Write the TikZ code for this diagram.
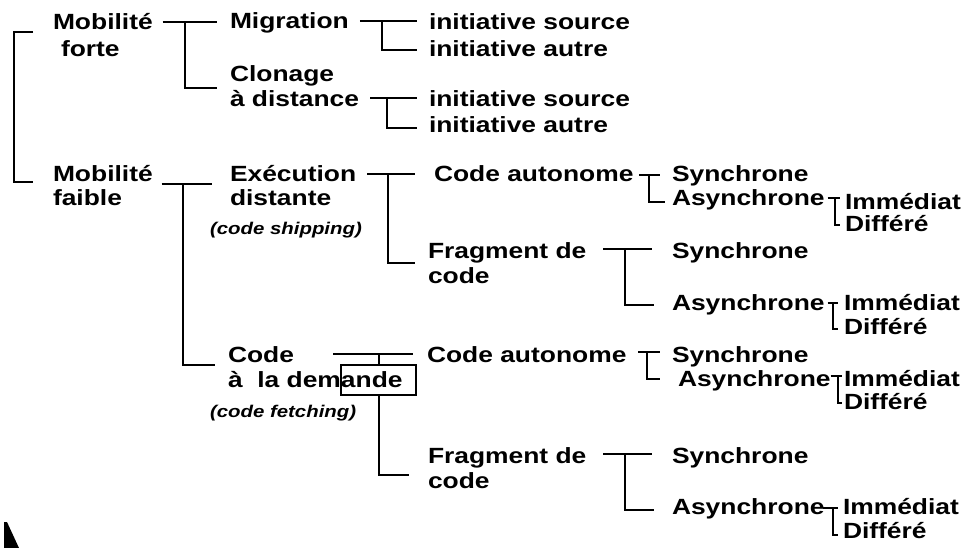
\documentclass[tikz,border=0pt]{standalone}
\usepackage{fontspec}
\setmainfont{Liberation Sans}[FakeStretch=1.2]
\usepackage{tikz}

\tikzset{
  lbl/.style={anchor=base west, inner sep=0pt, outer sep=0pt,
    font=\fontsize{22}{26}\selectfont\bfseries},
  note/.style={anchor=base west, inner sep=0pt, outer sep=0pt,
    font=\fontsize{17}{20}\selectfont\bfseries\itshape},
  link/.style={line width=2pt},
  cadre/.style={draw, line width=2pt, inner sep=0pt,
    minimum width=75pt, minimum height=30pt}
}

\begin{document}
\begin{tikzpicture}[x=1pt, y=-1pt]
        \useasboundingbox (0,0) rectangle (966,548);
        % colonne 0
        \node[lbl] (mf1) at (53,30) {Mobilité};
        \node[lbl] (mf2) at (61,57) {forte};
        \node[lbl] (mw1) at (53,182) {Mobilité};
        \node[lbl] (mw2) at (53,206) {faible};
        % colonne 1
        \node[lbl] (mig) at (230,29) {Migration};
        \node[lbl] (clo1) at (230,82) {Clonage};
        \node[lbl] (clo2) at (230,107) {à distance};
        \node[lbl] (exe1) at (230,182) {Exécution};
        \node[lbl] (exe2) at (230,206) {distante};
        \node[note] (exe3) at (210,234) {(code shipping)};
        \node[lbl] (cad1) at (228,362) {Code};
        \node[lbl] (cad2) at (228,387) {à~ la demande};
        \node[note] (cad3) at (210,417) {(code fetching)};
        % colonne 2
        \node[lbl] (is1) at (429,30) {initiative source};
        \node[lbl] (ia1) at (429,57) {initiative autre};
        \node[lbl] (is2) at (429,107) {initiative source};
        \node[lbl] (ia2) at (429,133) {initiative autre};
        \node[lbl] (ca1) at (434,182) {Code autonome};
        \node[lbl] (fr1) at (428,258) {Fragment de};
        \node[lbl] (fr1b) at (428,283) {code};
        \node[lbl] (ca2) at (427,362) {Code autonome};
        \node[lbl] (fr2) at (428,463) {Fragment de};
        \node[lbl] (fr2b) at (428,488) {code};
        % colonne 3
        \node[lbl] (sy1) at (672,182) {Synchrone};
        \node[lbl] (as1) at (672,206) {Asynchrone};
        \node[lbl] (sy2) at (672,258) {Synchrone};
        \node[lbl] (as2) at (672,310) {Asynchrone};
        \node[lbl] (sy3) at (672,362) {Synchrone};
        \node[lbl] (as3) at (678,386) {Asynchrone};
        \node[lbl] (sy4) at (672,463) {Synchrone};
        \node[lbl] (as4) at (672,514) {Asynchrone};
        % colonne 4
        \node[lbl] (im1) at (845,210) {Immédiat};
        \node[lbl] (di1) at (845,232) {Différé};
        \node[lbl] (im2) at (844,310) {Immédiat};
        \node[lbl] (di2) at (844,334) {Différé};
        \node[lbl] (im3) at (844,386) {Immédiat};
        \node[lbl] (di3) at (844,409) {Différé};
        \node[lbl] (im4) at (843,514) {Immédiat};
        \node[lbl] (di4) at (843,538) {Différé};
        \node[cadre] (boite) at (378.5,380) {};

        % accolades
        \draw[link] ([xshift=-20pt,yshift=-2pt]mf1.base west) -| ([xshift=-39pt]mw1.base west) -- ([xshift=-20pt]mw1.base west);
        \draw[link] ([xshift=10pt,yshift=8pt]mf1.base east) -- ([xshift=-13pt,yshift=7pt]mig.base west) ++(-32,0) |- ([xshift=-13pt,yshift=-6pt]clo1.base west);
        \draw[link] ([xshift=11pt,yshift=8pt]mig.base east) -- ([xshift=-12pt,yshift=9pt]is1.base west) ++(-35,0) |- ([xshift=-12pt,yshift=7pt]ia1.base west);
        \draw[link] ([xshift=11pt,yshift=9pt]clo2.base east) -- ([xshift=-12pt,yshift=9pt]is2.base west) ++(-30,0) |- ([xshift=-12pt,yshift=5pt]ia2.base west);
        \draw[link] ([xshift=9pt,yshift=-2pt]mw1.base east) -- ([xshift=-18pt,yshift=-2pt]exe1.base west) ++(-29,0) |- ([xshift=-13pt,yshift=-3pt]cad1.base west);
        \draw[link] ([xshift=11pt,yshift=8pt]exe1.base east) -- ([xshift=-19pt,yshift=8pt]ca1.base west) ++(-27,0) |- ([xshift=-13pt,yshift=-5pt]fr1.base west);
        \draw[link] ([xshift=6pt,yshift=7pt]ca1.base east) -- ([xshift=-12pt,yshift=7pt]sy1.base west) ++(-11,0) |- ([xshift=-7pt,yshift=4pt]as1.base west);
        \draw[link] ([xshift=3pt,yshift=8pt]as1.base east) -- ([xshift=-5pt,yshift=12pt]im1.base west) ++(-5,0) |- ([xshift=-5pt,yshift=7pt]di1.base west);
        \draw[link] ([xshift=17pt,yshift=9pt]fr1.base east) -- ([xshift=-20pt,yshift=9pt]sy2.base west) ++(-27,0) |- ([xshift=-18pt,yshift=5pt]as2.base west);
        \draw[link] ([xshift=3pt,yshift=7pt]as2.base east) -- ([xshift=-6pt,yshift=7pt]im2.base west) ++(-5,0) |- ([xshift=-6pt,yshift=5pt]di2.base west);
        % code a la demande
        \draw[link] ([xshift=39pt,yshift=8pt]cad1.base east) -- ([xshift=-14pt,yshift=8pt]ca2.base west);
        \draw[link] (boite.north) -- ++(0,-11);
        \draw[link] (boite.south) |- ([xshift=-19pt,yshift=-12pt]fr2.base west);
        \draw[link] ([xshift=12pt,yshift=10pt]ca2.base east) -- ([xshift=-12pt,yshift=10pt]sy3.base west) ++(-13,0) |- ([xshift=-18pt,yshift=7pt]as3.base west);
        \draw[link] ([yshift=10pt]as3.base east) -- ([xshift=-2pt,yshift=10pt]im3.base west) ++(-4,0) |- ([xshift=-2pt,yshift=6pt]di3.base west);
        \draw[link] ([xshift=17pt,yshift=9pt]fr2.base east) -- ([xshift=-20pt,yshift=9pt]sy4.base west) ++(-27,0) |- ([xshift=-18pt,yshift=4pt]as4.base west);
        \draw[link] ([xshift=-2pt,yshift=6pt]as4.base east) -- ([xshift=-5pt,yshift=6pt]im4.base west) ++(-5,0) |- ([xshift=-5pt,yshift=3pt]di4.base west);
        % coin noir
        \fill (4,522) -- (7,522) -- (19,548) -- (4,548) -- cycle;
    \end{tikzpicture}
\end{document}
